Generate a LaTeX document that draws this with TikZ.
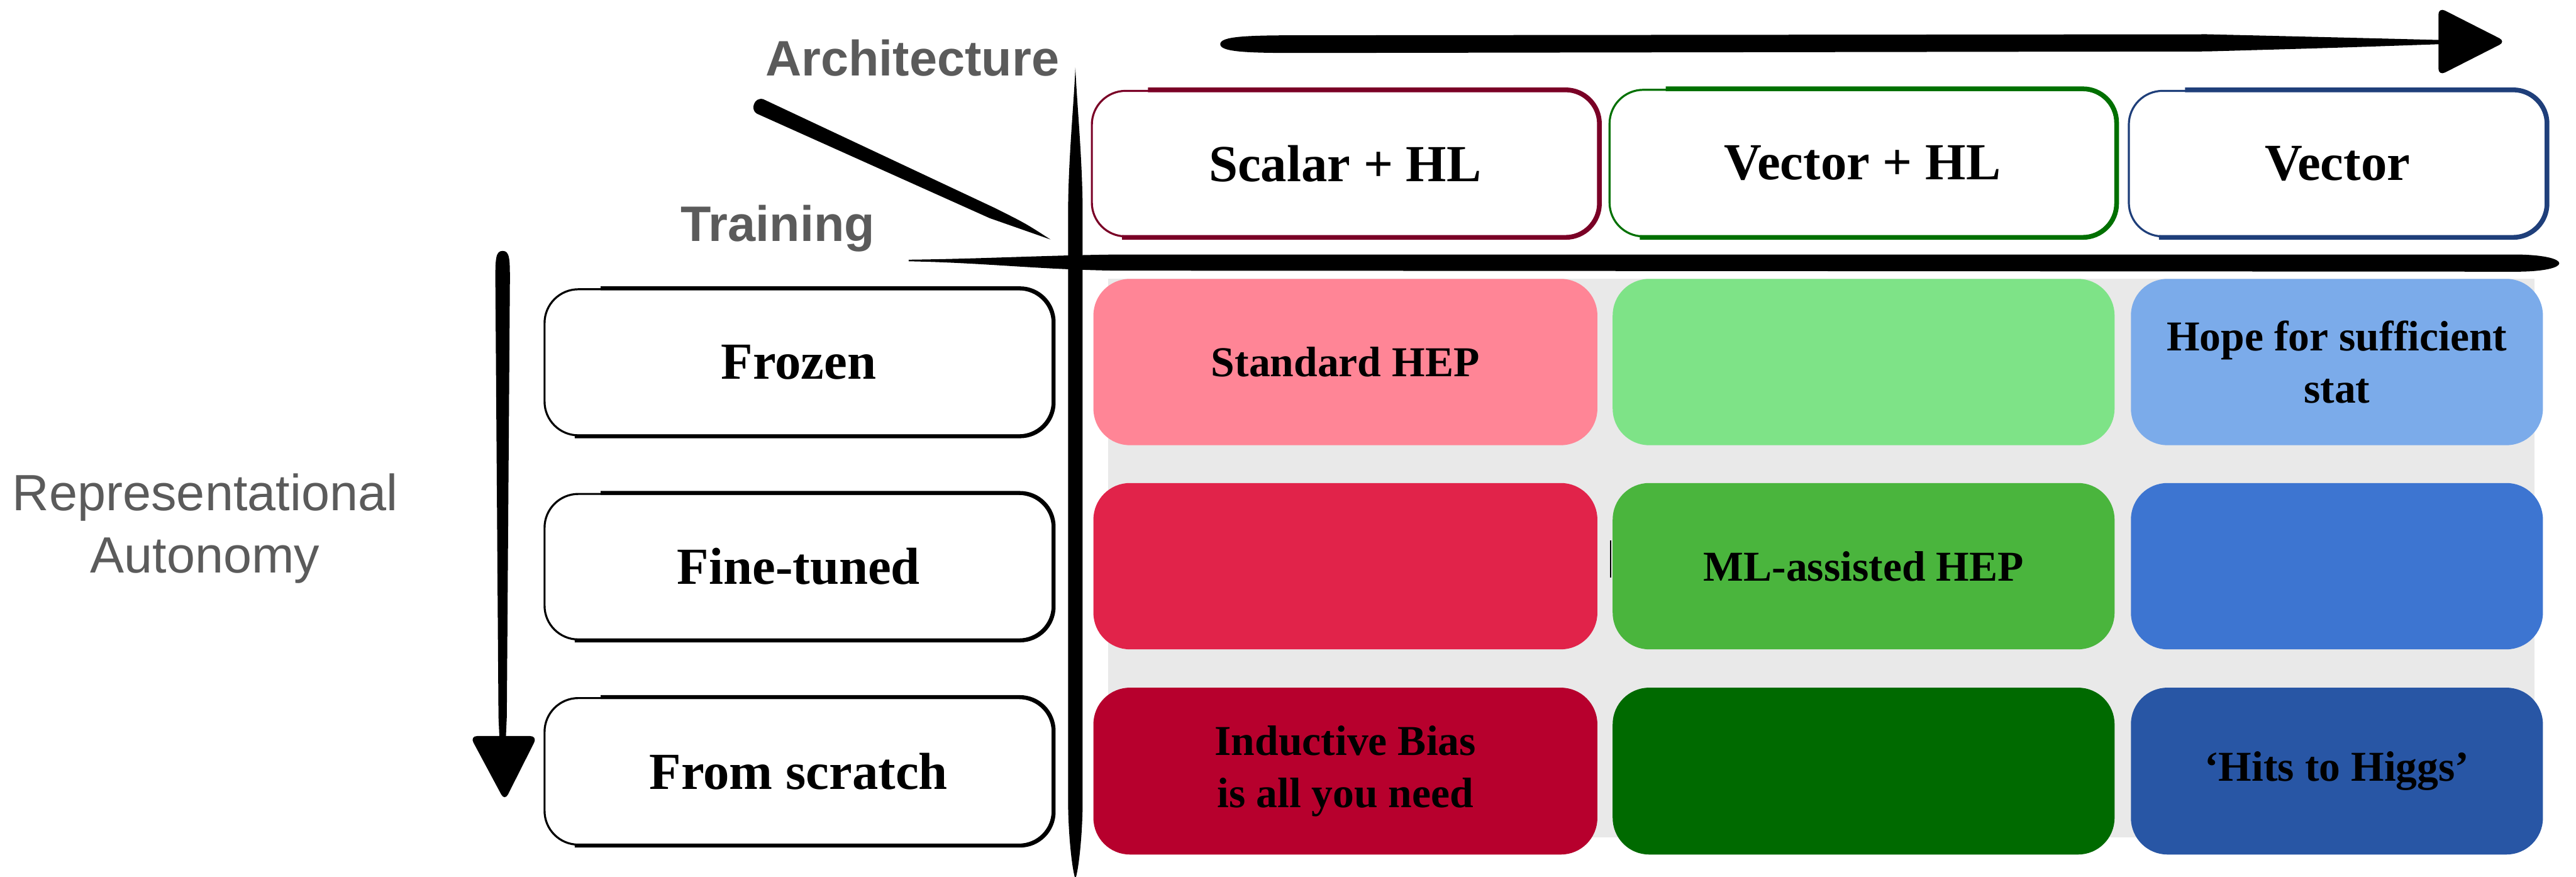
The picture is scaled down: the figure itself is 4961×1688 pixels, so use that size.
\documentclass[tikz,border=0pt]{standalone}
\usepackage{fontspec}
\setmainfont{Liberation Serif}
\newfontfamily\axisfont{Liberation Sans}

% header frame colours
\definecolor{scalarred}{HTML}{7A0026}
\definecolor{vecgreen}{HTML}{007000}
\definecolor{vecblue}{HTML}{1F3F7A}
% cell fills
\definecolor{cAa}{HTML}{FF8596}
\definecolor{cAb}{HTML}{7EE387}
\definecolor{cAc}{HTML}{7BABEA}
\definecolor{cBa}{HTML}{E1234A}
\definecolor{cBb}{HTML}{4AB53D}
\definecolor{cBc}{HTML}{3D75D1}
\definecolor{cCa}{HTML}{B7002D}
\definecolor{cCb}{HTML}{006A00}
\definecolor{cCc}{HTML}{2856A5}
\definecolor{gridbg}{HTML}{E9E9E9}
\definecolor{axisgray}{HTML}{5B5B5B}

\begin{document}
\begin{tikzpicture}[x=0.01cm, y=-0.01cm,
  frame/.style={draw=#1, line width=1.1pt, rounded corners=18.5pt, inner sep=0pt,
    font=\fontsize{28.5}{34}\selectfont\bfseries},
  brush/.style={draw=#1, line width=2.6pt, rounded corners=18.5pt},
  cell/.style={fill=#1, rounded corners=20pt, inner sep=0pt, align=center,
    font=\fontsize{23.3}{28.4}\selectfont\bfseries},
  axislabel/.style={text=axisgray, inner sep=0pt,
    font=\axisfont\fontsize{27.3}{33}\selectfont\bfseries},
]
\useasboundingbox (0,0) rectangle (4961,1688);

% ---- grey backdrop behind the grid ----
\fill[gridbg] (2134,536) rectangle (4881,1612);

% ---- grid cells ----
\node[cell=cAa, minimum width=9.70cm, minimum height=3.20cm] (c11) at (2591,697) {Standard HEP};
\node[cell=cAb, minimum width=9.66cm, minimum height=3.20cm] (c12) at (3589,697) {};
\node[cell=cAc, minimum width=7.93cm, minimum height=3.20cm] (c13) at (4500.5,697) {Hope for sufficient\\stat};
\node[cell=cBa, minimum width=9.70cm, minimum height=3.20cm] (c21) at (2591,1090) {};
\node[cell=cBb, minimum width=9.66cm, minimum height=3.20cm] (c22) at (3589,1090) {ML-assisted HEP};
\node[cell=cBc, minimum width=7.93cm, minimum height=3.20cm] (c23) at (4500.5,1090) {};
\node[cell=cCa, minimum width=9.70cm, minimum height=3.21cm] (c31) at (2591,1484.5) {Inductive Bias\\is all you need};
\node[cell=cCb, minimum width=9.66cm, minimum height=3.21cm] (c32) at (3589,1484.5) {};
\node[cell=cCc, minimum width=7.93cm, minimum height=3.21cm] (c33) at (4500.5,1484.5) {‘Hits to Higgs’};

% stray pen mark at the edge of the middle cell
\draw[line width=0.9pt] (3102,1040) -- (3102,1112);

% ---- architecture headers ----
\node[frame=scalarred, minimum width=9.75cm, minimum height=2.80cm] (h1) at (2590.5,315) {Scalar + HL};
\node[frame=vecgreen, minimum width=9.74cm, minimum height=2.82cm] (h2) at (3587,314) {Vector + HL};
\node[frame=vecblue, minimum width=8.03cm, minimum height=2.80cm] (h3) at (4501.5,315) {Vector};
\foreach \h/\c in {h1/scalarred, h2/vecgreen, h3/vecblue}
  \draw[brush=\c] ([xshift=1.1cm]\h.north west) -- (\h.north east) -- (\h.south east) -- ([xshift=0.6cm]\h.south west);

% ---- training rows ----
\node[frame=black, minimum width=9.78cm, minimum height=2.81cm] (r1) at (1538,697.5) {Frozen};
\node[frame=black, minimum width=9.78cm, minimum height=2.80cm] (r2) at (1538,1091) {Fine-tuned};
\node[frame=black, minimum width=9.78cm, minimum height=2.82cm] (r3) at (1538,1485) {From scratch};
\foreach \r in {r1,r2,r3}
  \draw[brush=black, line width=2.1pt] ([xshift=1.1cm]\r.north west) -- (\r.north east) -- (\r.south east) -- ([xshift=0.6cm]\r.south west);

% ---- axis captions ----
\node[axislabel, anchor=base] (arch) at (1757,146) {Architecture};
\node[axislabel, anchor=base] (train) at (1498,464) {Training};
\node[text=axisgray, inner sep=0pt, align=center,
      font=\axisfont\fontsize{27.9}{34.1}\selectfont] (autonomy) at (395,1018)
      {Representational\\Autonomy};

% ---- brush strokes ----
% diagonal divider
\fill (1470,191) -- (1915,400) .. controls (1975,430) .. (2023,461)
      .. controls (1965,440) .. (1906,420) -- (1458,219)
      .. controls (1444,212) and (1452,186) .. (1470,191) -- cycle;
% vertical divider
\fill (2071,130) .. controls (2074,200) and (2084,300) .. (2085,400) -- (2085,1550)
      .. controls (2084,1620) and (2076,1680) .. (2071,1692)
      .. controls (2066,1680) and (2058,1620) .. (2057,1550) -- (2057,400)
      .. controls (2058,300) and (2068,200) .. (2071,130) -- cycle;
% horizontal divider
\fill (1750,500) .. controls (1900,498) and (2000,492) .. (2150,490) -- (4850,490)
      .. controls (4955,492) and (4955,522) .. (4850,523) -- (2150,521)
      .. controls (2000,519) and (1900,506) .. (1750,503) -- cycle;
% architecture arrow
\fill (2350,85) .. controls (2350,70) and (2400,68) .. (2500,68) -- (4250,66)
      .. controls (4500,72) .. (4700,77) -- (4700,85)
      .. controls (4500,92) .. (4250,99) -- (2500,102)
      .. controls (2400,102) and (2350,100) .. (2350,85) -- cycle;
\fill[rounded corners=4pt] (4696,14) -- (4826,80) -- (4696,146) -- cycle;
% autonomy arrow
\fill (968,483) .. controls (982,483) and (982,500) .. (982,540) -- (976,1380)
      -- (974,1425) -- (962,1425) -- (960,1380) -- (954,540)
      .. controls (954,500) and (954,483) .. (968,483) -- cycle;
\fill[rounded corners=4pt] (905,1417) -- (1035,1417) -- (972,1542) -- cycle;
\end{tikzpicture}
\end{document}
